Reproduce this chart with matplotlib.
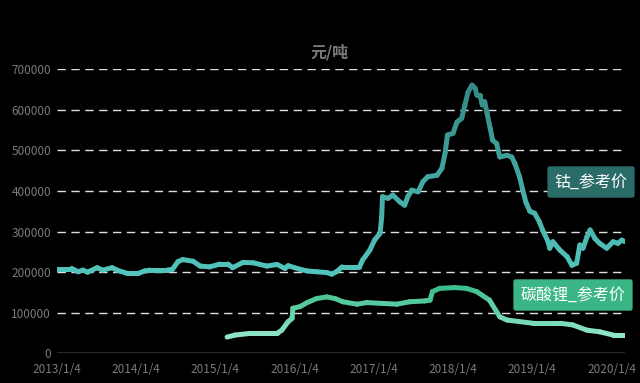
import matplotlib
matplotlib.use('Agg')
import matplotlib.pyplot as plt
import numpy as np
from matplotlib.collections import LineCollection
from matplotlib.colors import LinearSegmentedColormap, Normalize

plt.rcParams['font.family'] = ['Noto Sans CJK SC', 'DejaVu Sans']

# time in decimal years, prices in 元/吨
cobalt_t = [2013.00, 2013.19, 2013.27, 2013.33, 2013.39, 2013.51, 2013.58, 2013.70, 2013.76,
            2013.89, 2014.03, 2014.11, 2014.18, 2014.39, 2014.46, 2014.53, 2014.59, 2014.72,
            2014.81, 2014.93, 2015.06, 2015.16, 2015.22, 2015.35, 2015.48, 2015.65, 2015.78,
            2015.88, 2015.92, 2016.07, 2016.16, 2016.28, 2016.41, 2016.47, 2016.53, 2016.60,
            2016.82, 2016.86, 2016.95, 2017.01, 2017.08, 2017.10, 2017.11, 2017.18, 2017.24,
            2017.33, 2017.39, 2017.43, 2017.48, 2017.56, 2017.62, 2017.68, 2017.80, 2017.86,
            2017.90, 2017.93, 2018.00, 2018.05, 2018.11, 2018.15, 2018.19, 2018.24, 2018.28,
            2018.30, 2018.34, 2018.37, 2018.40, 2018.43, 2018.47, 2018.50, 2018.55, 2018.59,
            2018.68, 2018.74, 2018.78, 2018.84, 2018.88, 2018.92, 2018.97, 2019.03, 2019.09,
            2019.13, 2019.20, 2019.22, 2019.26, 2019.35, 2019.44, 2019.50, 2019.56, 2019.60,
            2019.64, 2019.69, 2019.73, 2019.79, 2019.85, 2019.94, 2020.02, 2020.08, 2020.13,
            2020.17]
cobalt = [209000, 209000, 201000, 205000, 200000, 211000, 205000, 211000, 205000,
          197000, 197000, 203000, 205000, 205000, 207000, 226000, 231000, 227000,
          215000, 213000, 220000, 220000, 211000, 224000, 223000, 215000, 219000,
          209000, 216000, 207000, 203000, 201000, 199000, 195000, 201000, 213000,
          213000, 230000, 254000, 279000, 296000, 336000, 386000, 382000, 390000,
          373000, 365000, 386000, 402000, 398000, 423000, 435000, 439000, 456000,
          493000, 538000, 542000, 570000, 579000, 612000, 644000, 661000, 653000,
          636000, 636000, 612000, 620000, 591000, 554000, 525000, 517000, 484000,
          488000, 484000, 468000, 435000, 402000, 372000, 350000, 345000, 324000,
          304000, 275000, 259000, 275000, 254000, 238000, 217000, 222000, 267000,
          259000, 287000, 304000, 283000, 271000, 259000, 275000, 271000, 279000,
          275000]

lithium_t = [2015.15, 2015.25, 2015.44, 2015.78, 2015.84, 2015.92, 2015.97, 2015.98, 2016.07,
             2016.16, 2016.28, 2016.41, 2016.51, 2016.61, 2016.79, 2016.91, 2017.11, 2017.29,
             2017.45, 2017.64, 2017.71, 2017.74, 2017.83, 2018.02, 2018.17, 2018.30, 2018.46,
             2018.59, 2018.68, 2019.01, 2019.35, 2019.51, 2019.69, 2019.85, 2020.02, 2020.17]
lithium = [40000, 45000, 49000, 49000, 57000, 78000, 86000, 111000, 115000,
           125000, 135000, 139000, 135000, 127000, 121000, 125000, 123000, 121000,
           127000, 129000, 131000, 152000, 160000, 162000, 160000, 152000, 131000,
           90000, 82000, 74000, 74000, 70000, 57000, 53000, 45000, 45000]

years = [2013, 2014, 2015, 2016, 2017, 2018, 2019, 2020]
yticks = [0, 100000, 200000, 300000, 400000, 500000, 600000, 700000]

GRAY = '#7a7a7a'


def grad_line(ax, x, y, c_lo, c_hi, vmin, vmax, lw=3.6):
    x = np.asarray(x)
    y = np.asarray(y, dtype=float)
    pts = np.column_stack([x, y]).reshape(-1, 1, 2)
    segs = np.concatenate([pts[:-1], pts[1:]], axis=1)
    cmap = LinearSegmentedColormap.from_list('g', [c_lo, c_hi])
    lc = LineCollection(segs, cmap=cmap, norm=Normalize(vmin, vmax), linewidths=lw,
                        capstyle='round', joinstyle='round', zorder=3)
    lc.set_array((y[:-1] + y[1:]) / 2)
    ax.add_collection(lc)


fig = plt.figure(figsize=(6.4, 3.83), dpi=100, facecolor='black')
ax = fig.add_axes([56.7 / 640, 29.7 / 383, (625 - 56.7) / 640, (353.3 - 69.3) / 383])
ax.set_facecolor('black')

for v in yticks[1:]:
    ax.axhline(v, color='#e0e0e0', lw=1.0, ls=(0, (6, 4)), zorder=1)
ax.axhline(0, color='#d9d9d9', lw=1.0, zorder=1)

grad_line(ax, cobalt_t, cobalt, '#52c4bc', '#348a85', 200000, 660000)
grad_line(ax, lithium_t, lithium, '#93e6c9', '#3cbe8c', 40000, 160000)

ax.set_xlim(2013.0, 2020.17)
ax.set_ylim(0, 700000)
ax.set_xticks(years)
ax.set_xticklabels([f'{y}/1/4' for y in years])
ax.set_yticks(yticks)
ax.set_yticklabels([str(v) for v in yticks])
ax.tick_params(colors=GRAY, labelsize=8.5, length=0, pad=4)
ax.tick_params(axis='x', pad=7)
for s in ax.spines.values():
    s.set_visible(False)

fig.text(330 / 640, 1 - 52 / 383, '元/吨', color=GRAY, fontsize=11.5, fontweight='bold',
         ha='center', va='center')

fig.text(591 / 640, 1 - 182 / 383, '钴_参考价', color='white', fontsize=11.5,
         ha='center', va='center',
         bbox=dict(boxstyle='round,pad=0.45,rounding_size=0.15', fc='#2a6c67', ec='none'))
fig.text(573 / 640, 1 - 295 / 383, '碳酸锂_参考价', color='white', fontsize=11.5,
         ha='center', va='center',
         bbox=dict(boxstyle='round,pad=0.45,rounding_size=0.15', fc='#3ab686', ec='none'))

fig.savefig('out.png', dpi=100, facecolor='black')
